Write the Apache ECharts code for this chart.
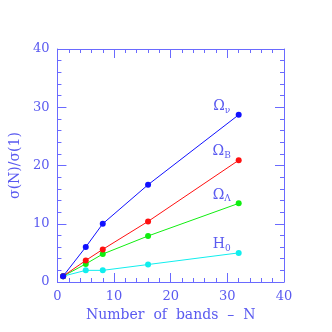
<!DOCTYPE html>
<html><head><meta charset="utf-8">
<script src="https://cdn.jsdelivr.net/npm/echarts@6/dist/echarts.min.js"></script>
<style>html,body{margin:0;padding:0;background:#fff}#c{width:332px;height:332px}</style>
</head><body><div id="c"></div>
<script>
const bands = [1, 5, 8, 16, 32];
const omegaNu = [1, 6.0, 10.0, 16.7, 28.7];
const omegaB = [1, 3.7, 5.6, 10.4, 20.9];
const omegaL = [1, 3.1, 4.8, 7.9, 13.5];
const h0 = [1, 2.0, 2.0, 3.0, 5.0];
const names = ['Ων', 'ΩB', 'ΩΛ', 'H0'];
const colors = ['#1010ff', '#ff1010', '#10ee10', '#10eeee'];
const axisColor = '#6a6aff';
const textColor = '#5a5af0';
const font = 'DejaVu Serif';

const chart = echarts.init(document.getElementById('c'), null, {renderer: 'canvas'});
function axisCommon(show) {
  return {
    type: 'value', min: 0, max: 40, interval: 10,
    axisLine: {show: true, onZero: false, lineStyle: {color: axisColor, width: 1}},
    axisTick: {show: true, inside: true, length: 9, lineStyle: {color: axisColor}},
    minorTick: {show: true, splitNumber: 5, length: 4, lineStyle: {color: axisColor}},
    splitLine: {show: false},
    axisLabel: {show: show, color: textColor, fontFamily: font, fontSize: 13}
  };
}
function mk(vals, i) {
  const rich = {
    m: {fontFamily: font, fontSize: 14, color: textColor},
    s: {fontFamily: font, fontSize: 9, color: textColor, padding: [8, 0, 0, 0]}
  };
  const main = names[i].charAt(0), sub = names[i].slice(1);
  return {
    type: 'line', name: names[i],
    data: bands.map((b, k) => {
      const p = {value: [b, vals[k]]};
      if (k === bands.length - 1) {
        p.label = {show: true, position: 'top', offset: [-17, 8],
          formatter: '{m|' + main + '}{s|' + sub + '}', rich: rich};
      }
      return p;
    }),
    symbol: 'circle', symbolSize: 6,
    lineStyle: {color: colors[i], width: 1},
    itemStyle: {color: colors[i]},
    label: {show: false},
    z: 5 - i
  };
}
chart.setOption({
  animation: false,
  grid: {left: 51, top: 49, right: 48, bottom: 50, containLabel: false},
  xAxis: [
    Object.assign(axisCommon(true), {name: 'Number  of  bands  –  N', nameLocation: 'middle', nameGap: 26,
      nameTextStyle: {color: textColor, fontFamily: font, fontSize: 14}}),
    Object.assign(axisCommon(false), {position: 'top'})
  ],
  yAxis: [
    Object.assign(axisCommon(true), {name: 'σ(N)/σ(1)', nameLocation: 'middle', nameGap: 24,
      nameTextStyle: {color: textColor, fontFamily: font, fontSize: 14}}),
    Object.assign(axisCommon(false), {position: 'right'})
  ],
  series: [mk(omegaNu, 0), mk(omegaB, 1), mk(omegaL, 2), mk(h0, 3)]
});
</script></body></html>
